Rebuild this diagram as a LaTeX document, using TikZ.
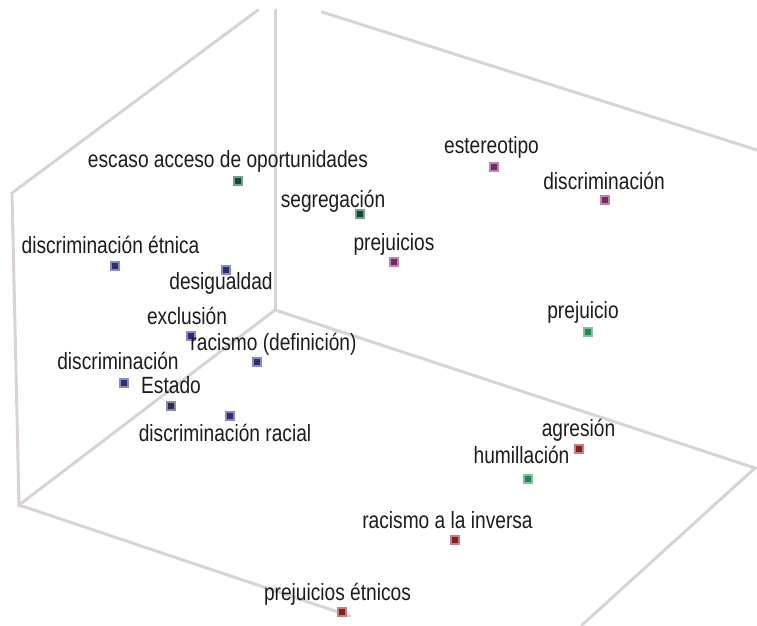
\documentclass[tikz,border=0pt]{standalone}
\usepackage{fontspec}
\usepackage{tikz}
\usetikzlibrary{calc}

\newfontfamily\lblfont{Liberation Sans}[FakeStretch=0.815]

\definecolor{boxgray}{HTML}{D9D3D3}
\definecolor{labelgray}{HTML}{1C1C1C}
\definecolor{termblue}{HTML}{2B2C7A}
\definecolor{termslate}{HTML}{2B2D4F}
\definecolor{termpurple}{HTML}{7B2468}
\definecolor{termdkgreen}{HTML}{0F4A35}
\definecolor{termgreen}{HTML}{1E8A4E}
\definecolor{termred}{HTML}{8A1C1C}

\tikzset{
  boxline/.style={draw=boxgray, line width=3pt, line cap=round},
  termdot/.style={rectangle, inner sep=0pt, minimum size=8pt, fill=#1, draw=#1!55, line width=2pt},
  termlabel/.style={anchor=base, inner sep=0pt, text=labelgray, font={\lblfont\fontsize{23.5}{27}\selectfont}}
}

\begin{document}
\begin{tikzpicture}[x=1pt, y=-1pt]
        \useasboundingbox (0,0) rectangle (757,625);

        % esquinas de la caja (vista en perspectiva, recortada arriba)
        \coordinate (tl) at (12,193);
        \coordinate (tlend) at (258,10);
        \coordinate (bl) at (19,505);
        \coordinate (back) at (275,310);
        \coordinate (backtop) at (275,10);
        \coordinate (trstart) at (322,12);
        \coordinate (trend) at (757,150);
        \coordinate (rc) at (755,468);
        \coordinate (rcend) at (582,625);
        \coordinate (blend) at (350,616);

        % aristas de la caja
        \draw[boxline] (tlend) -- (tl) -- (bl) -- (back) -- (rc) -- (rcend);
        \draw[boxline] (backtop) -- (back);
        \draw[boxline] (trstart) -- (trend);
        \draw[boxline] (bl) -- (blend);

        % grupo azul
        \node[termdot=termblue] (pEtnica) at (115,266) {};
        \node[termdot=termblue] (pDesig) at (226,270) {};
        \node[termdot=termblue] (pExcl) at (191,336) {};
        \node[termdot=termblue] (pRacDef) at (257,362) {};
        \node[termdot=termblue] (pDiscAz) at (124,383) {};
        \node[termdot=termslate] (pEstado) at (171,406) {};
        \node[termdot=termblue] (pRacial) at (230,416) {};

        % grupo verde oscuro
        \node[termdot=termdkgreen] (pEscaso) at (238,181) {};
        \node[termdot=termdkgreen] (pSegreg) at (360,214) {};

        % grupo morado
        \node[termdot=termpurple] (pPrejs) at (394,262) {};
        \node[termdot=termpurple] (pEstereo) at (494,167) {};
        \node[termdot=termpurple] (pDiscMo) at (605,200) {};

        % grupo verde y rojo
        \node[termdot=termgreen] (pPrej) at (588,332) {};
        \node[termdot=termgreen] (pHumill) at (528,479) {};
        \node[termdot=termred] (pAgres) at (579,449) {};
        \node[termdot=termred] (pInversa) at (455,540) {};
        \node[termdot=termred] (pEtnicos) at (342,612) {};

        % etiquetas
        \node[termlabel] (lEscaso) at (228,167) {escaso acceso de oportunidades};
        \node[termlabel] (lSegreg) at (333,207) {segregación};
        \node[termlabel] (lEtnica) at (110.5,253) {discriminación étnica};
        \node[termlabel] (lDesig) at (221,289) {desigualdad};
        \node[termlabel] (lPrejs) at (394,250) {prejuicios};
        \node[termlabel] (lEstereo) at (491.5,153) {estereotipo};
        \node[termlabel] (lDiscMo) at (604,189) {discriminación};
        \node[termlabel] (lExcl) at (187,324) {exclusión};
        \node[termlabel] (lRacDef) at (273.5,350) {racismo (definición)};
        \node[termlabel] (lDiscAz) at (118,369) {discriminación};
        \node[termlabel] (lEstado) at (171,393) {Estado};
        \node[termlabel] (lRacial) at (225,441) {discriminación racial};
        \node[termlabel] (lPrej) at (583,318) {prejuicio};
        \node[termlabel] (lAgres) at (578.5,436) {agresión};
        \node[termlabel] (lHumill) at (521.5,463) {humillación};
        \node[termlabel] (lInversa) at (447.5,528) {racismo a la inversa};
        \node[termlabel] (lEtnicos) at (337.5,600) {prejuicios étnicos};

    \end{tikzpicture}
\end{document}
